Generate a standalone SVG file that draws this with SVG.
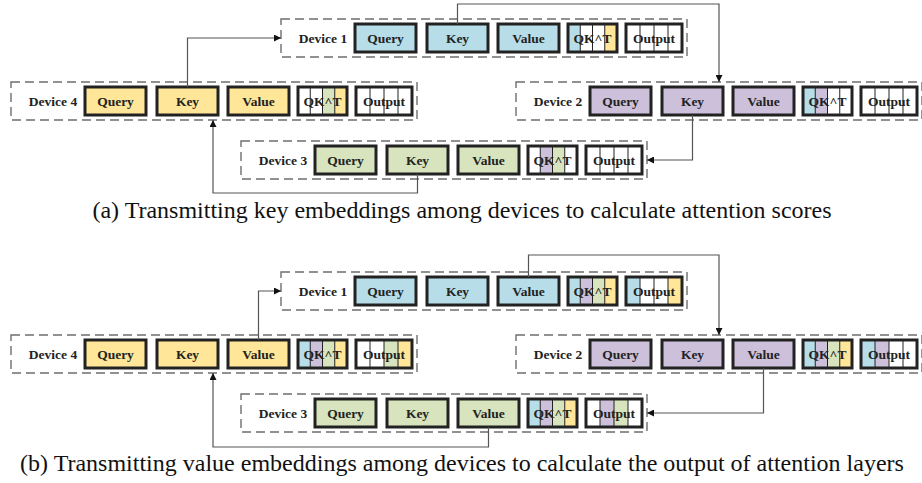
<svg xmlns="http://www.w3.org/2000/svg" width="922" height="483" viewBox="0 0 922 483">
  <defs>
    <style>
      .dev { fill: none; stroke: #6e6e6e; stroke-width: 1.4; stroke-dasharray: 9 5; }
      .box { fill: none; stroke: #222; stroke-width: 3; }
      .div { stroke: #222; stroke-width: 1; }
      .b { fill: #b7dde8; }
      .y { fill: #ffe699; }
      .p { fill: #ccc0da; }
      .g { fill: #d7e4bd; }
      .w { fill: #ffffff; }
      .lbl { font-family: "Liberation Serif", "Times New Roman", serif; font-weight: bold; font-size: 13.5px; fill: #222; text-anchor: middle; }
      .cap { font-family: "Liberation Serif", "Times New Roman", serif; font-size: 24px; fill: #111; text-anchor: middle; }
      .wire { fill: none; stroke: #555; stroke-width: 1.2; marker-end: url(#arr); }
    </style>
    <marker id="arr" viewBox="0 0 10 10" refX="10" refY="5" markerWidth="7" markerHeight="7" markerUnits="userSpaceOnUse" orient="auto">
      <path d="M0,0 L10,5 L0,10 z" fill="#111"/>
    </marker>
    <!-- dashed outline shared by every device frame -->
    <rect id="frame" class="dev" x="0" y="0" width="406" height="38"/>
  </defs>

  <!-- ===== (a) key exchange ===== -->
  <g id="a-device1" transform="translate(281,19)">
    <use href="#frame"/>
    <text class="lbl" x="42" y="24">Device 1</text>
    <rect class="b" x="74" y="5" width="61" height="28"/><rect class="box" x="74" y="5" width="61" height="28"/>
    <text class="lbl" x="104.5" y="24">Query</text>
    <rect class="b" x="146" y="5" width="61" height="28"/><rect class="box" x="146" y="5" width="61" height="28"/>
    <text class="lbl" x="176.5" y="24">Key</text>
    <rect class="b" x="217" y="5" width="61" height="28"/><rect class="box" x="217" y="5" width="61" height="28"/>
    <text class="lbl" x="247.5" y="24">Value</text>
    <rect class="b" x="287" y="5" width="12.25" height="28"/><rect class="w" x="299.25" y="5" width="24.5" height="28"/><rect class="y" x="323.75" y="5" width="12.25" height="28"/>
    <path class="div" d="M299.25,5v28M311.5,5v28M323.75,5v28"/>
    <rect class="box" x="287" y="5" width="49" height="28"/>
    <text class="lbl" x="311.5" y="24">QK^T</text>
    <rect class="w" x="345" y="5" width="56" height="28"/>
    <path class="div" d="M359,5v28M373,5v28M387,5v28"/>
    <rect class="box" x="345" y="5" width="56" height="28"/>
    <text class="lbl" x="373" y="24">Output</text>
  </g>

  <g id="a-device4" transform="translate(11,82)">
    <use href="#frame"/>
    <text class="lbl" x="42" y="24">Device 4</text>
    <rect class="y" x="74" y="5" width="61" height="28"/><rect class="box" x="74" y="5" width="61" height="28"/>
    <text class="lbl" x="104.5" y="24">Query</text>
    <rect class="y" x="146" y="5" width="61" height="28"/><rect class="box" x="146" y="5" width="61" height="28"/>
    <text class="lbl" x="176.5" y="24">Key</text>
    <rect class="y" x="217" y="5" width="61" height="28"/><rect class="box" x="217" y="5" width="61" height="28"/>
    <text class="lbl" x="247.5" y="24">Value</text>
    <rect class="w" x="287" y="5" width="24.5" height="28"/><rect class="g" x="311.5" y="5" width="12.25" height="28"/><rect class="y" x="323.75" y="5" width="12.25" height="28"/>
    <path class="div" d="M299.25,5v28M311.5,5v28M323.75,5v28"/>
    <rect class="box" x="287" y="5" width="49" height="28"/>
    <text class="lbl" x="311.5" y="24">QK^T</text>
    <rect class="w" x="345" y="5" width="56" height="28"/>
    <path class="div" d="M359,5v28M373,5v28M387,5v28"/>
    <rect class="box" x="345" y="5" width="56" height="28"/>
    <text class="lbl" x="373" y="24">Output</text>
  </g>

  <g id="a-device2" transform="translate(516,82)">
    <use href="#frame"/>
    <text class="lbl" x="42" y="24">Device 2</text>
    <rect class="p" x="74" y="5" width="61" height="28"/><rect class="box" x="74" y="5" width="61" height="28"/>
    <text class="lbl" x="104.5" y="24">Query</text>
    <rect class="p" x="146" y="5" width="61" height="28"/><rect class="box" x="146" y="5" width="61" height="28"/>
    <text class="lbl" x="176.5" y="24">Key</text>
    <rect class="p" x="217" y="5" width="61" height="28"/><rect class="box" x="217" y="5" width="61" height="28"/>
    <text class="lbl" x="247.5" y="24">Value</text>
    <rect class="b" x="287" y="5" width="12.25" height="28"/><rect class="p" x="299.25" y="5" width="12.25" height="28"/><rect class="w" x="311.5" y="5" width="24.5" height="28"/>
    <path class="div" d="M299.25,5v28M311.5,5v28M323.75,5v28"/>
    <rect class="box" x="287" y="5" width="49" height="28"/>
    <text class="lbl" x="311.5" y="24">QK^T</text>
    <rect class="w" x="345" y="5" width="56" height="28"/>
    <path class="div" d="M359,5v28M373,5v28M387,5v28"/>
    <rect class="box" x="345" y="5" width="56" height="28"/>
    <text class="lbl" x="373" y="24">Output</text>
  </g>

  <g id="a-device3" transform="translate(241,141)">
    <use href="#frame"/>
    <text class="lbl" x="42" y="24">Device 3</text>
    <rect class="g" x="74" y="5" width="61" height="28"/><rect class="box" x="74" y="5" width="61" height="28"/>
    <text class="lbl" x="104.5" y="24">Query</text>
    <rect class="g" x="146" y="5" width="61" height="28"/><rect class="box" x="146" y="5" width="61" height="28"/>
    <text class="lbl" x="176.5" y="24">Key</text>
    <rect class="g" x="217" y="5" width="61" height="28"/><rect class="box" x="217" y="5" width="61" height="28"/>
    <text class="lbl" x="247.5" y="24">Value</text>
    <rect class="w" x="287" y="5" width="12.25" height="28"/><rect class="p" x="299.25" y="5" width="12.25" height="28"/><rect class="g" x="311.5" y="5" width="12.25" height="28"/><rect class="w" x="323.75" y="5" width="12.25" height="28"/>
    <path class="div" d="M299.25,5v28M311.5,5v28M323.75,5v28"/>
    <rect class="box" x="287" y="5" width="49" height="28"/>
    <text class="lbl" x="311.5" y="24">QK^T</text>
    <rect class="w" x="345" y="5" width="56" height="28"/>
    <path class="div" d="M359,5v28M373,5v28M387,5v28"/>
    <rect class="box" x="345" y="5" width="56" height="28"/>
    <text class="lbl" x="373" y="24">Output</text>
  </g>

  <g id="a-connectors">
    <path class="wire" d="M457.5,24V4H719V82"/>
    <path class="wire" d="M692.5,115V160H647"/>
    <path class="wire" d="M417.5,174V193H213V120"/>
    <path class="wire" d="M187.5,87V38H281"/>
  </g>

  <text class="cap" x="462" y="218">(a) Transmitting key embeddings among devices to calculate attention scores</text>

  <!-- ===== (b) value exchange ===== -->
  <g id="b-device1" transform="translate(281,272)">
    <use href="#frame"/>
    <text class="lbl" x="42" y="24">Device 1</text>
    <rect class="b" x="74" y="5" width="61" height="28"/><rect class="box" x="74" y="5" width="61" height="28"/>
    <text class="lbl" x="104.5" y="24">Query</text>
    <rect class="b" x="146" y="5" width="61" height="28"/><rect class="box" x="146" y="5" width="61" height="28"/>
    <text class="lbl" x="176.5" y="24">Key</text>
    <rect class="b" x="217" y="5" width="61" height="28"/><rect class="box" x="217" y="5" width="61" height="28"/>
    <text class="lbl" x="247.5" y="24">Value</text>
    <rect class="b" x="287" y="5" width="12.25" height="28"/><rect class="p" x="299.25" y="5" width="12.25" height="28"/><rect class="g" x="311.5" y="5" width="12.25" height="28"/><rect class="y" x="323.75" y="5" width="12.25" height="28"/>
    <path class="div" d="M299.25,5v28M311.5,5v28M323.75,5v28"/>
    <rect class="box" x="287" y="5" width="49" height="28"/>
    <text class="lbl" x="311.5" y="24">QK^T</text>
    <rect class="b" x="345" y="5" width="14" height="28"/><rect class="w" x="359" y="5" width="28" height="28"/><rect class="y" x="387" y="5" width="14" height="28"/>
    <path class="div" d="M359,5v28M373,5v28M387,5v28"/>
    <rect class="box" x="345" y="5" width="56" height="28"/>
    <text class="lbl" x="373" y="24">Output</text>
  </g>

  <g id="b-device4" transform="translate(11,335)">
    <use href="#frame"/>
    <text class="lbl" x="42" y="24">Device 4</text>
    <rect class="y" x="74" y="5" width="61" height="28"/><rect class="box" x="74" y="5" width="61" height="28"/>
    <text class="lbl" x="104.5" y="24">Query</text>
    <rect class="y" x="146" y="5" width="61" height="28"/><rect class="box" x="146" y="5" width="61" height="28"/>
    <text class="lbl" x="176.5" y="24">Key</text>
    <rect class="y" x="217" y="5" width="61" height="28"/><rect class="box" x="217" y="5" width="61" height="28"/>
    <text class="lbl" x="247.5" y="24">Value</text>
    <rect class="b" x="287" y="5" width="12.25" height="28"/><rect class="p" x="299.25" y="5" width="12.25" height="28"/><rect class="g" x="311.5" y="5" width="12.25" height="28"/><rect class="y" x="323.75" y="5" width="12.25" height="28"/>
    <path class="div" d="M299.25,5v28M311.5,5v28M323.75,5v28"/>
    <rect class="box" x="287" y="5" width="49" height="28"/>
    <text class="lbl" x="311.5" y="24">QK^T</text>
    <rect class="w" x="345" y="5" width="28" height="28"/><rect class="g" x="373" y="5" width="14" height="28"/><rect class="y" x="387" y="5" width="14" height="28"/>
    <path class="div" d="M359,5v28M373,5v28M387,5v28"/>
    <rect class="box" x="345" y="5" width="56" height="28"/>
    <text class="lbl" x="373" y="24">Output</text>
  </g>

  <g id="b-device2" transform="translate(516,335)">
    <use href="#frame"/>
    <text class="lbl" x="42" y="24">Device 2</text>
    <rect class="p" x="74" y="5" width="61" height="28"/><rect class="box" x="74" y="5" width="61" height="28"/>
    <text class="lbl" x="104.5" y="24">Query</text>
    <rect class="p" x="146" y="5" width="61" height="28"/><rect class="box" x="146" y="5" width="61" height="28"/>
    <text class="lbl" x="176.5" y="24">Key</text>
    <rect class="p" x="217" y="5" width="61" height="28"/><rect class="box" x="217" y="5" width="61" height="28"/>
    <text class="lbl" x="247.5" y="24">Value</text>
    <rect class="b" x="287" y="5" width="12.25" height="28"/><rect class="p" x="299.25" y="5" width="12.25" height="28"/><rect class="g" x="311.5" y="5" width="12.25" height="28"/><rect class="y" x="323.75" y="5" width="12.25" height="28"/>
    <path class="div" d="M299.25,5v28M311.5,5v28M323.75,5v28"/>
    <rect class="box" x="287" y="5" width="49" height="28"/>
    <text class="lbl" x="311.5" y="24">QK^T</text>
    <rect class="b" x="345" y="5" width="14" height="28"/><rect class="p" x="359" y="5" width="14" height="28"/><rect class="w" x="373" y="5" width="28" height="28"/>
    <path class="div" d="M359,5v28M373,5v28M387,5v28"/>
    <rect class="box" x="345" y="5" width="56" height="28"/>
    <text class="lbl" x="373" y="24">Output</text>
  </g>

  <g id="b-device3" transform="translate(241,394)">
    <use href="#frame"/>
    <text class="lbl" x="42" y="24">Device 3</text>
    <rect class="g" x="74" y="5" width="61" height="28"/><rect class="box" x="74" y="5" width="61" height="28"/>
    <text class="lbl" x="104.5" y="24">Query</text>
    <rect class="g" x="146" y="5" width="61" height="28"/><rect class="box" x="146" y="5" width="61" height="28"/>
    <text class="lbl" x="176.5" y="24">Key</text>
    <rect class="g" x="217" y="5" width="61" height="28"/><rect class="box" x="217" y="5" width="61" height="28"/>
    <text class="lbl" x="247.5" y="24">Value</text>
    <rect class="b" x="287" y="5" width="12.25" height="28"/><rect class="p" x="299.25" y="5" width="12.25" height="28"/><rect class="g" x="311.5" y="5" width="12.25" height="28"/><rect class="y" x="323.75" y="5" width="12.25" height="28"/>
    <path class="div" d="M299.25,5v28M311.5,5v28M323.75,5v28"/>
    <rect class="box" x="287" y="5" width="49" height="28"/>
    <text class="lbl" x="311.5" y="24">QK^T</text>
    <rect class="w" x="345" y="5" width="14" height="28"/><rect class="p" x="359" y="5" width="14" height="28"/><rect class="g" x="373" y="5" width="14" height="28"/><rect class="w" x="387" y="5" width="14" height="28"/>
    <path class="div" d="M359,5v28M373,5v28M387,5v28"/>
    <rect class="box" x="345" y="5" width="56" height="28"/>
    <text class="lbl" x="373" y="24">Output</text>
  </g>

  <g id="b-connectors">
    <path class="wire" d="M528.5,277V255H719V335"/>
    <path class="wire" d="M763.5,368V413H647"/>
    <path class="wire" d="M488.5,427V447H213V373"/>
    <path class="wire" d="M258.5,340V291H281"/>
  </g>

  <text class="cap" x="462" y="471">(b) Transmitting value embeddings among devices to calculate the output of attention layers</text>
</svg>
